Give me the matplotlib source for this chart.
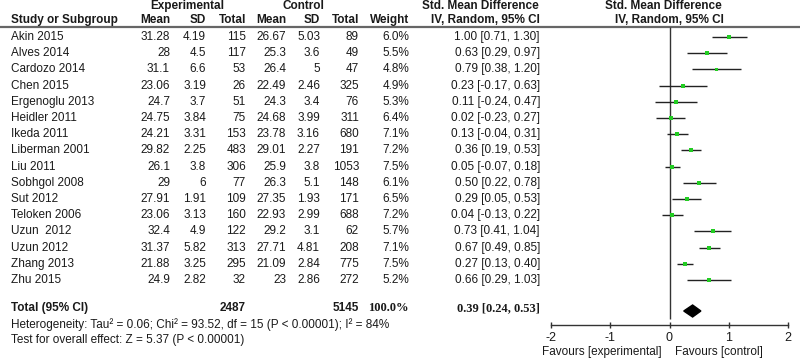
import matplotlib
matplotlib.use('Agg')
import matplotlib.pyplot as plt

# data
studies = ['Akin 2015', 'Alves 2014', 'Cardozo 2014', 'Chen 2015', 'Ergenoglu 2013',
           'Heidler 2011', 'Ikeda 2011', 'Liberman 2001', 'Liu 2011', 'Sobhgol 2008',
           'Sut 2012', 'Teloken 2006', 'Uzun  2012', 'Uzun 2012', 'Zhang 2013', 'Zhu 2015']
exp_mean = [31.28, 28, 31.1, 23.06, 24.7, 24.75, 24.21, 29.82, 26.1, 29, 27.91, 23.06, 32.4, 31.37, 21.88, 24.9]
exp_sd = [4.19, 4.5, 6.6, 3.19, 3.7, 3.84, 3.31, 2.25, 3.8, 6, 1.91, 3.13, 4.9, 5.82, 3.25, 2.82]
exp_n = [115, 117, 53, 26, 51, 75, 153, 483, 306, 77, 109, 160, 122, 313, 295, 32]
ctl_mean = [26.67, 25.3, 26.4, 22.49, 24.3, 24.68, 23.78, 29.01, 25.9, 26.3, 27.35, 22.93, 29.2, 27.71, 21.09, 23]
ctl_sd = [5.03, 3.6, 5, 2.46, 3.4, 3.99, 3.16, 2.27, 3.8, 5.1, 1.93, 2.99, 3.1, 4.81, 2.84, 2.86]
ctl_n = [89, 49, 47, 325, 76, 311, 680, 191, 1053, 148, 171, 688, 62, 208, 775, 272]
weight = [6.0, 5.5, 4.8, 4.9, 5.3, 6.4, 7.1, 7.2, 7.5, 6.1, 6.5, 7.2, 5.7, 7.1, 7.5, 5.2]
smd = [1.00, 0.63, 0.79, 0.23, 0.11, 0.02, 0.13, 0.36, 0.05, 0.50, 0.29, 0.04, 0.73, 0.67, 0.27, 0.66]
ci_lo = [0.71, 0.29, 0.38, -0.17, -0.24, -0.23, -0.04, 0.19, -0.07, 0.22, 0.05, -0.13, 0.41, 0.49, 0.13, 0.29]
ci_hi = [1.30, 0.97, 1.20, 0.63, 0.47, 0.27, 0.31, 0.53, 0.18, 0.78, 0.53, 0.22, 1.04, 0.85, 0.40, 1.03]

total_exp = 2487
total_ctl = 5145
total_weight = 100.0
total_smd = 0.39
total_lo = 0.24
total_hi = 0.53
het_text = 'Heterogeneity: Tau\u00b2 = 0.06; Chi\u00b2 = 93.52, df = 15 (P < 0.00001); I\u00b2 = 84%'
test_text = 'Test for overall effect: Z = 5.37 (P < 0.00001)'
xticks = [-2, -1, 0, 1, 2]

plt.rcParams['font.family'] = ['Liberation Sans', 'DejaVu Sans']
fs = 8.5
tc = '#1a1a1a'

fig = plt.figure(figsize=(8, 3.6), dpi=100)
ax = fig.add_axes([0, 0, 1, 1])
ax.set_xlim(0, 800)
ax.set_ylim(360, 0)
ax.axis('off')

# layout (pixels from top-left)
row0 = 37
pitch = 16.2
col_x = [170, 206, 246, 286, 320, 359, 409, 540]
axis_y = 325

# header
ax.text(187, 6, 'Experimental', ha='center', va='center', fontsize=fs, fontweight='bold', color=tc)
ax.text(303, 6, 'Control', ha='center', va='center', fontsize=fs, fontweight='bold', color=tc)
ax.text(480, 6, 'Std. Mean Difference', ha='center', va='center', fontsize=fs, fontweight='bold', color=tc)
ax.text(663, 6, 'Std. Mean Difference', ha='center', va='center', fontsize=fs, fontweight='bold', color=tc)
ax.text(11, 20, 'Study or Subgroup', ha='left', va='center', fontsize=fs, fontweight='bold', color=tc)
hdr = ['Mean', 'SD', 'Total', 'Mean', 'SD', 'Total', 'Weight', 'IV, Random, 95% CI']
for x, h in zip(col_x, hdr):
    ax.text(x, 20, h, ha='right', va='center', fontsize=fs, fontweight='bold', color=tc)
ax.text(669, 20, 'IV, Random, 95% CI', ha='center', va='center', fontsize=fs, fontweight='bold', color=tc)
ax.hlines(27, 0, 800, color='#666666', lw=1.6)

# study rows
for i, s in enumerate(studies):
    y = row0 + pitch * i
    vals = [f'{exp_mean[i]:g}', f'{exp_sd[i]:g}', f'{exp_n[i]}',
            f'{ctl_mean[i]:g}', f'{ctl_sd[i]:g}', f'{ctl_n[i]}',
            f'{weight[i]:.1f}%',
            f'{smd[i]:.2f} [{ci_lo[i]:.2f}, {ci_hi[i]:.2f}]']
    ax.text(11, y, s, ha='left', va='center', fontsize=fs, color=tc)
    for x, v in zip(col_x, vals):
        ax.text(x, y, v, ha='right', va='center', fontsize=fs, color=tc)

# total row
ty = 308
ax.text(11, ty, 'Total (95% CI)', ha='left', va='center', fontsize=fs, fontweight='bold', color=tc)
ax.text(col_x[2], ty, f'{total_exp}', ha='right', va='center', fontsize=fs, fontweight='bold', color=tc)
ax.text(col_x[5], ty, f'{total_ctl}', ha='right', va='center', fontsize=fs, fontweight='bold', color=tc)
ax.text(col_x[6], ty, f'{total_weight:.1f}%', ha='right', va='center', fontsize=fs + 0.5,
        fontweight='bold', color=tc, family='Liberation Serif')
ax.text(col_x[7], ty, f'{total_smd:.2f} [{total_lo:.2f}, {total_hi:.2f}]', ha='right', va='center',
        fontsize=fs + 0.5, fontweight='bold', color=tc, family='Liberation Serif')
ax.text(11, 325, het_text, ha='left', va='center', fontsize=fs, color=tc)
ax.text(11, 340, test_text, ha='left', va='center', fontsize=fs, color=tc)

# forest panel
fax = fig.add_axes([551 / 800, (360 - axis_y) / 360, (788 - 551) / 800, (axis_y - 27) / 360])
fax.set_xlim(-2, 2)
fax.set_ylim(axis_y, 27)
fax.patch.set_visible(False)
for sp in ['top', 'left', 'right']:
    fax.spines[sp].set_visible(False)
fax.spines['bottom'].set_color('#333333')
fax.spines['bottom'].set_linewidth(1.0)
fax.set_yticks([])
fax.set_xticks(xticks)
fax.set_xticklabels([str(t) for t in xticks])
fax.tick_params(axis='x', direction='inout', length=5, width=1.0, color='#333333',
                labelsize=fs + 0.5, labelcolor=tc, pad=2.5)

fax.vlines(0, 27, 319, color='#333333', lw=1.0)
for i in range(len(studies)):
    y = row0 + pitch * i
    fax.hlines(y, ci_lo[i], ci_hi[i], color='#222222', lw=1.0)
    fax.plot(smd[i], y, marker='s', color='#22cc22', markersize=weight[i] * 0.45,
             markeredgewidth=0, linestyle='none')
dy = 311
fax.fill([total_lo, total_smd, total_hi, total_smd], [dy, dy - 6, dy, dy + 6], color='black')

ax.text(662, 352, 'Favours [experimental]', ha='right', va='center', fontsize=fs, color=tc)
ax.text(675, 352, 'Favours [control]', ha='left', va='center', fontsize=fs, color=tc)

fig.savefig('out.png', dpi=100, facecolor='white')
